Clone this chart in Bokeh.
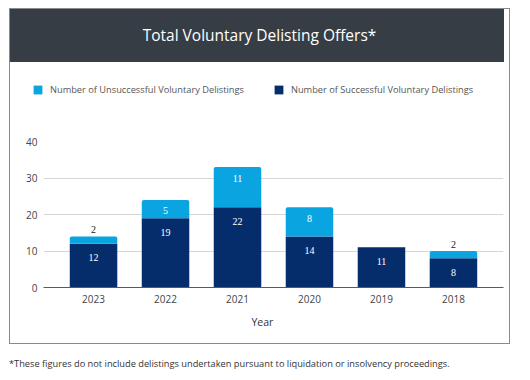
from bokeh.plotting import figure
from bokeh.models import (FactorRange, Range1d, LabelSet, ColumnDataSource,
                          Legend, LegendItem, FixedTicker, Div, Title)
from bokeh.layouts import column
from bokeh.embed import file_html
from bokeh.resources import INLINE

years = ["2023", "2022", "2021", "2020", "2019", "2018"]
successful = [12, 19, 22, 14, 11, 8]
unsuccessful = [2, 5, 11, 8, 0, 2]
y_ticks = [0, 10, 20, 30, 40]
title_text = "Total Voluntary Delisting Offers*"
footnote_text = "*These figures do not include delistings undertaken pursuant to liquidation or insolvency proceedings."
name_succ = "Number of Successful Voluntary Delistings"
name_unsucc = "Number of Unsuccessful Voluntary Delistings"
x_label = "Year"

NAVY = "#062d6b"
LIGHT = "#0aa5e0"
HEADER = "#363d44"
FONT = "Open Sans"

W = 499
totals = [s + u for s, u in zip(successful, unsuccessful)]
src = ColumnDataSource(dict(year=years, succ=successful, unsucc=unsuccessful, total=totals))

# ---------- legend strip (same series, zero width and out of view; only its legend shows) ----------
LH = 40
lg = figure(width=W, height=LH, x_range=FactorRange(*years), y_range=Range1d(-1001, -1000),
            x_axis_type=None, y_axis_type=None, output_backend="svg",
            toolbar_location=None, min_border=0, margin=0)
lg.frame_align = False
lg.outline_line_color = None
lg.xgrid.visible = False
lg.ygrid.visible = False
lrs = lg.vbar_stack(["succ", "unsucc"], x="year", width=0, color=[NAVY, LIGHT],
                    line_color=None, source=src)
legend = Legend(items=[LegendItem(label=name_unsucc, renderers=[lrs[1]]),
                       LegendItem(label=name_succ, renderers=[lrs[0]])],
                orientation="horizontal", location=(22, 6),
                glyph_width=11, glyph_height=11, label_standoff=7, spacing=29,
                padding=0, margin=0, border_line_alpha=0, background_fill_alpha=0,
                label_text_font=FONT, label_text_font_size="9.25px",
                label_text_color="#555555")
lg.add_layout(legend)

# ---------- main chart ----------
H = 241
FL, FT, FR, FB = 33, 39, 493, 185

p = figure(width=W, height=H,
           x_range=FactorRange(*years, range_padding=0.065),
           y_range=Range1d(0, 40),
           output_backend="svg", toolbar_location=None,
           min_border_left=FL, min_border_right=W - FR,
           min_border_top=FT, min_border_bottom=H - FB, margin=0)
p.frame_align = False
p.outline_line_color = None
p.background_fill_color = "white"
p.border_fill_color = "white"

rs = p.vbar_stack(["succ", "unsucc"], x="year", width=0.66, color=[NAVY, LIGHT],
                  line_color=None, source=src)
if "border_radius" in rs[1].glyph.properties():
    rs[1].glyph.border_radius = (2, 2, 0, 0)

succ_src = ColumnDataSource(dict(year=years, y=successful, t=[str(v) for v in successful]))
p.add_layout(LabelSet(x="year", y="y", text="t", source=succ_src, y_offset=-14,
                      text_align="center", text_baseline="middle", text_color="white",
                      text_font=FONT, text_font_size="10px"))
in_idx = [i for i, u in enumerate(unsuccessful) if u >= 4]
out_idx = [i for i, u in enumerate(unsuccessful) if 0 < u < 4]
in_src = ColumnDataSource(dict(year=[years[i] for i in in_idx], y=[totals[i] for i in in_idx],
                               t=[str(unsuccessful[i]) for i in in_idx]))
out_src = ColumnDataSource(dict(year=[years[i] for i in out_idx], y=[totals[i] for i in out_idx],
                                t=[str(unsuccessful[i]) for i in out_idx]))
p.add_layout(LabelSet(x="year", y="y", text="t", source=in_src, y_offset=-11,
                      text_align="center", text_baseline="middle", text_color="white",
                      text_font=FONT, text_font_size="10px"))
p.add_layout(LabelSet(x="year", y="y", text="t", source=out_src, y_offset=7,
                      text_align="center", text_baseline="middle", text_color="#222222",
                      text_font=FONT, text_font_size="10px"))

p.xgrid.grid_line_color = None
p.ygrid.grid_line_color = "#d6d6d6"
p.yaxis.ticker = FixedTicker(ticks=y_ticks)
p.yaxis.axis_line_color = None
p.yaxis.major_tick_line_color = None
p.yaxis.major_tick_out = 0
p.yaxis.minor_tick_line_color = None
p.yaxis.major_label_standoff = 6
p.yaxis.major_label_text_font = FONT
p.yaxis.major_label_text_font_size = "10px"
p.yaxis.major_label_text_color = "#444444"

p.xaxis.axis_line_color = "#5a5a5a"
p.xaxis.major_tick_line_color = None
p.xaxis.major_tick_out = 0
p.xaxis.major_label_standoff = 7
p.xaxis.major_label_text_font = FONT
p.xaxis.major_label_text_font_size = "10px"
p.xaxis.major_label_text_color = "#444444"

# axis title (left-anchored so it sits where the reference puts it)
year_title = Title(text=x_label, align="left", offset=208, standoff=9,
                   text_font=FONT, text_font_size="10.5px", text_font_style="normal",
                   text_color="#333333")
if "padding" in year_title.properties():
    year_title.padding = (0, 0, 3, 0)
p.add_layout(year_title, "below")

# ---------- header, border, footnote ----------
header = Div(text=(f'<div style="width:{W - 5}px;padding-left:5px;height:53px;line-height:53px;'
                   f'text-align:center;background:{HEADER};color:#ffffff;'
                   f'font-family:\'{FONT}\';font-size:15.5px;">{title_text}</div>'),
             width=W, height=53, margin=0)
box = column(header, lg, p, spacing=0, margin=0,
             styles={"border": "1px solid #8a8a8a"})
foot = Div(text=(f'<div style="font-family:\'{FONT}\';font-size:9.25px;color:#333333;'
                 f'white-space:nowrap;line-height:14px;">{footnote_text}</div>'),
           width=510, height=14, margin=(11, 0, 0, 0))
root = column(box, foot, spacing=0, margin=(8, 0, 0, 9))

open("out.html", "w").write(file_html(root, INLINE))
